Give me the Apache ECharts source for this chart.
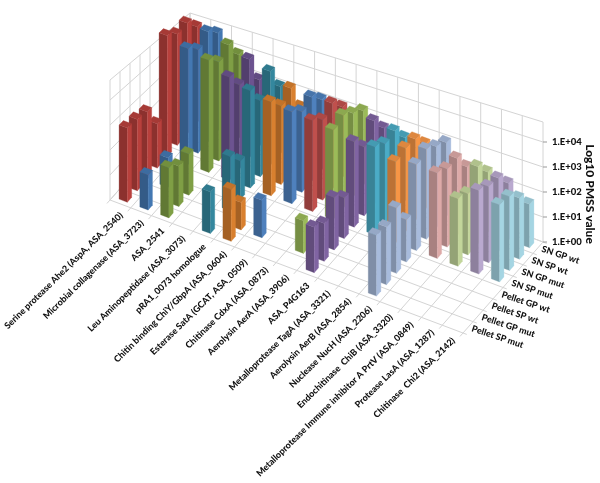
<!DOCTYPE html>
<html><head><meta charset="utf-8">
<style>html,body{margin:0;padding:0;background:#fff}#c{width:600px;height:483px;filter:blur(0.3px)}</style>
<script src="https://cdn.jsdelivr.net/npm/echarts@6/dist/echarts.min.js"></script>
</head><body><div id="c"></div>
<script>
const categories = ["Serine protease Ahe2 (AspA, ASA_2540)","Microbial collagenase (ASA_3723)","ASA_2541","Leu Aminopeptidase (ASA_3073)","pRA1_0073 homologue","Chitin binding ChiY/GbpA (ASA_0604)","Esterase SatA (GCAT, ASA_0509)","Chitinase CdxA (ASA_0873)","Aerolysin AerA (ASA_3906)","ASA_P4G163","Metalloprotease TagA (ASA_3321)","Aerolysin AerB (ASA_2854)","Nuclease NucH (ASA_2206)","Endochitinase  ChiB (ASA_3320)","Metalloprotease Immune inhibitor A PrtV (ASA_0849)","Protease LasA (ASA_1287)","Chitinase  Chi2 (ASA_2142)"];
const rows = ["SN GP wt","SN SP wt","SN GP mut","SN SP mut","Pellet GP wt","Pellet SP wt","Pellet GP mut","Pellet SP mut"];
const ticks = ["1.E+00","1.E+01","1.E+02","1.E+03","1.E+04"];
// log10 PMSS per row, one entry per category; null = no bar
const snGpWt   = [4.2,4.25,3.64,2.87,2.9,2.35,3.0,3.0,3.16,2.75,2.67,2.73,3.1,2.4,2.5,2.35,1.8];
const snSpWt   = [4.8,4.75,4.5,4.2,4.0,3.6,3.55,3.6,3.5,3.5,3.4,3.37,3.37,3.2,3.17,3.0,2.5];
const snGpMut  = [4.75,4.4,4.2,3.55,3.2,3.3,3.37,3.35,3.85,2.85,3.3,3.43,3.7,3.2,2.5,3.1,3.0];
const snSpMut  = [5.1,4.87,4.7,4.3,4.05,3.9,3.8,3.75,3.67,3.5,3.6,3.3,3.5,3.46,2.73,3.37,3.1];
const pelGpWt  = [1.84,null,null,null,1.58,null,null,null,null,1.65,null,null,1.7,null,null,null,null];
const pelSpWt  = [2.77,1.2,1.68,null,2.2,null,null,null,null,2.1,null,null,2.6,null,null,null,null];
const pelGpMut = [2.9,null,1.63,null,null,1.1,1.5,null,1.3,1.5,null,null,2.27,null,null,null,null];
const pelSpMut = [2.97,1.4,2.0,null,1.65,2.05,null,null,null,1.78,null,null,2.37,null,null,null,null];
const seriesValues = [snGpWt,snSpWt,snGpMut,snSpMut,pelGpWt,pelSpWt,pelGpMut,pelSpMut];
const colors = ['#b8403c','#4478b2','#7f9f45','#6c5390','#34879e','#d9802f','#4f81bd','#c0504d','#9bbb59','#8064a2','#4bacc6','#f79646','#a7bbdc','#ddaaa8','#c3d69b','#b9a9cf','#a5d5e3'];

const FONT = 'Lato, "Open Sans", sans-serif';
const NC = categories.length, NR = rows.length, TOPV = 4.8;
// projection of the 3D box: floor corners on screen (FL, FR, BR, BL), and px per decade at them
const floor = {fl:[110,200], fr:[463,333], br:[543,242], bl:[190,109]};
const barScale = {fl:25, fr:26, br:24, bl:22.5};
const wallScale = {fl:25, fr:25, br:25, bl:20};
function bil(a,b,c,d,s,t){return a*(1-s)*(1-t)+b*s*(1-t)+c*s*t+d*(1-s)*t;}
function proj(c,k,v,sc){
  const s=c/NC,t=k/NR;
  const x=bil(floor.fl[0],floor.fr[0],floor.br[0],floor.bl[0],s,t);
  const y=bil(floor.fl[1],floor.fr[1],floor.br[1],floor.bl[1],s,t);
  const d=bil(sc.fl,sc.fr,sc.br,sc.bl,s,t);
  return [x,y-v*d];
}
const P=(c,k,v)=>proj(c,k,v,barScale), W=(c,k,v)=>proj(c,k,v,wallScale);
function shade(hex,f){const n=parseInt(hex.slice(1),16);return 'rgb('+[n>>16,(n>>8)&255,n&255].map(x=>Math.round(x*f)).join(',')+')';}

// bars, back-to-front
const barData=[];
for(let c=0;c<NC;c++)for(let r=0;r<NR;r++){const v=seriesValues[r][c];if(v!=null)barData.push([c,NR-1-r,v]);}

const GRID='#d4d4d4';
function line(a,b,col,w){return {type:'line',silent:true,shape:{x1:a[0],y1:a[1],x2:b[0],y2:b[1]},style:{stroke:col||GRID,lineWidth:w||1}};}
function renderWalls(){
  const ch=[];
  for(let c=0;c<=NC;c++){
    ch.push(line(W(c,0,0),W(c,NR,0)));
    ch.push(line(W(c,NR,0),W(c,NR,TOPV)));
    ch.push(line(W(c,0,0),proj(c,-0.3,0,wallScale)));
  }
  for(let k=0;k<=NR;k++){
    ch.push(line(W(0,k,0),W(NC,k,0)));
    ch.push(line(W(0,k,0),W(0,k,TOPV)));
    ch.push(line(W(NC,k,0),proj(NC+0.18,k,0,wallScale)));
  }
  for(let i=0;i<=ticks.length;i++){
    const v=Math.min(i,TOPV);
    ch.push(line(W(0,0,v),W(0,NR,v)));
    ch.push(line(W(0,NR,v),W(NC,NR,v)));
    if(i<ticks.length){const p=W(NC,NR,v);ch.push(line(p,[p[0]+4,p[1]],'#999'));}
  }
  return {type:'group',children:ch};
}
function renderBar(params,api){
  const c=api.value(0),k=api.value(1),v=api.value(2);
  const c0=c+0.3,c1=c+0.7,k0=k+0.285,k1=k+0.715;
  const col=colors[c];
  const poly=(pts,fill)=>({type:'polygon',silent:true,shape:{points:pts},style:{fill:fill,stroke:fill,lineWidth:0.3}});
  return {type:'group',children:[
    poly([P(c0,k0,0),P(c1,k0,0),P(c1,k0,v),P(c0,k0,v)],shade(col,0.76)),
    poly([P(c1,k0,0),P(c1,k1,0),P(c1,k1,v),P(c1,k0,v)],col),
    poly([P(c0,k0,v),P(c1,k0,v),P(c1,k1,v),P(c0,k1,v)],shade(col,0.9))
  ]};
}
function txt(x,y,s,size,rot,align,col){
  return {type:'text',silent:true,x:x,y:y,rotation:rot,originX:0,originY:0,
    style:{text:s,font:'900 '+size+'px '+FONT,fill:col||'#111',align:align,verticalAlign:'middle'}};
}
function renderLabels(){
  const ch=[];
  categories.forEach((s,c)=>{const p=W(c+0.5,0,0);ch.push(txt(p[0]+1,p[1]+10,s,9,Math.PI/180*44.5,'right'));});
  rows.forEach((s,r)=>{const p=W(NC,NR-1-r+0.5,0);ch.push(txt(p[0]+4,p[1]+1,s,9,-Math.PI/180*18.5,'left'));});
  ticks.forEach((s,i)=>{const p=W(NC,NR,i);ch.push(txt(p[0]+9,p[1],s,9.5,0,'left'));});
  ch.push(txt(590,194,'Log10 PMSS value',12,-Math.PI/2,'center'));
  return {type:'group',children:ch};
}
const chart=echarts.init(document.getElementById('c'),null,{renderer:'canvas'});
chart.setOption({
  animation:false,backgroundColor:'#fff',
  series:[
    {type:'custom',coordinateSystem:'none',data:[0],renderItem:renderWalls,silent:true,z:1},
    {type:'custom',coordinateSystem:'none',data:barData,dimensions:['cat','depth','log10'],renderItem:renderBar,silent:true,z:2},
    {type:'custom',coordinateSystem:'none',data:[0],renderItem:renderLabels,silent:true,z:3}
  ]
});
</script></body></html>
